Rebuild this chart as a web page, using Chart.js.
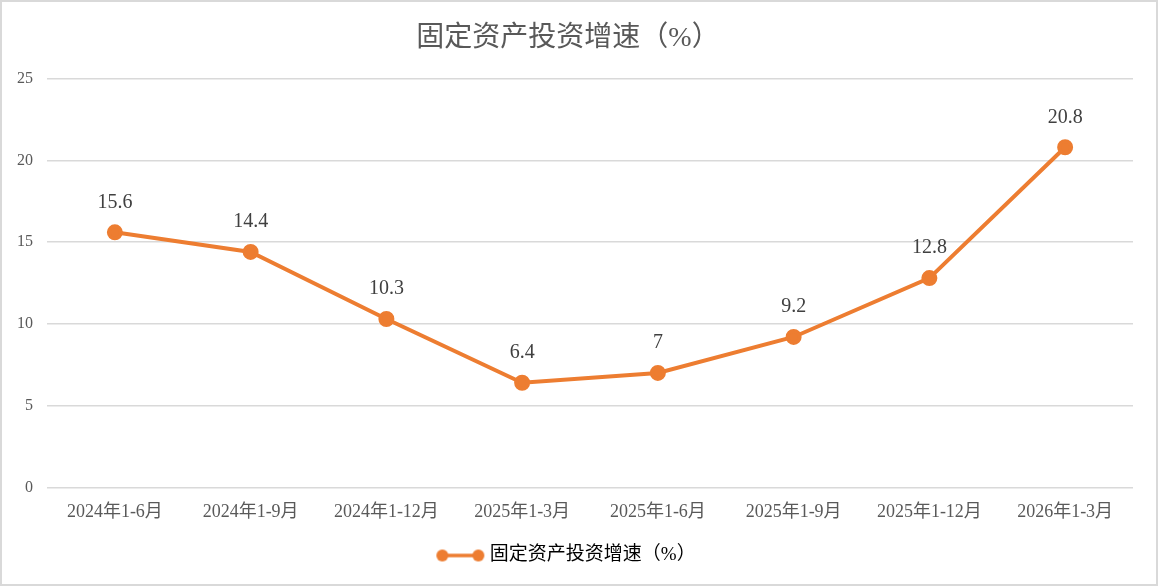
<!DOCTYPE html>
<html>
<head>
<meta charset="utf-8">
<script src="https://cdn.jsdelivr.net/npm/chart.js@4"></script>
<style>
  html, body { margin: 0; padding: 0; background: #fff; }
  #wrap { width: 1154px; height: 582px; border: 2px solid #d9d9d9; }
</style>
</head>
<body>
<div id="wrap"><canvas id="c" width="1154" height="582"></canvas></div>
<script>
// data
const periods = ['2024年1-6月', '2024年1-9月', '2024年1-12月', '2025年1-3月',
                 '2025年1-6月', '2025年1-9月', '2025年1-12月', '2026年1-3月'];
const growth = [15.6, 14.4, 10.3, 6.4, 7, 9.2, 12.8, 20.8];
const yTicks = [0, 5, 10, 15, 20, 25];
const seriesName = '固定资产投资增速（%）';

const ORANGE = '#ED7D31';
const SERIF = '"Liberation Serif", "Noto Sans CJK SC", serif';

// legend marker: short line with a dot on each end
function legendMarker() {
  const cv = document.createElement('canvas');
  cv.width = 50; cv.height = 16;
  const g = cv.getContext('2d');
  g.strokeStyle = ORANGE; g.fillStyle = ORANGE; g.lineWidth = 3.5;
  g.beginPath(); g.moveTo(7, 8); g.lineTo(43, 8); g.stroke();
  [7, 43].forEach(x => { g.beginPath(); g.arc(x, 8, 6, 0, Math.PI * 2); g.fill(); });
  return cv;
}

// value labels above each point
const valueLabels = {
  id: 'valueLabels',
  afterDatasetsDraw(chart) {
    const ctx = chart.ctx;
    const meta = chart.getDatasetMeta(0);
    ctx.save();
    ctx.font = '20px ' + SERIF;
    ctx.fillStyle = '#404040';
    ctx.textAlign = 'center';
    ctx.textBaseline = 'middle';
    meta.data.forEach((pt, i) => {
      ctx.fillText(String(growth[i]), pt.x, pt.y - 30);
    });
    ctx.restore();
  }
};

const marker = legendMarker();

new Chart(document.getElementById('c'), {
  type: 'line',
  data: {
    labels: periods,
    datasets: [{
      label: seriesName,
      data: growth,
      borderColor: ORANGE,
      backgroundColor: ORANGE,
      borderWidth: 4,
      pointRadius: 6,
      pointHoverRadius: 6,
      pointBackgroundColor: ORANGE,
      pointBorderColor: ORANGE,
      tension: 0,
      fill: false
    }]
  },
  options: {
    responsive: false,
    animation: false,
    layout: { padding: { left: 1, right: 23, top: 0, bottom: 9 } },
    plugins: {
      title: {
        display: true,
        text: seriesName,
        color: '#595959',
        font: { family: SERIF, size: 28, weight: 'normal' },
        padding: { top: 20, bottom: 23 }
      },
      legend: {
        position: 'bottom',
        labels: {
          usePointStyle: true,
          pointStyleWidth: 40,
          color: '#595959',
          font: { family: SERIF, size: 19 },
          padding: 14,
          generateLabels: () => [{
            text: seriesName,
            pointStyle: marker,
            fillStyle: ORANGE,
            strokeStyle: ORANGE,
            lineWidth: 0,
            datasetIndex: 0
          }]
        }
      },
      tooltip: { enabled: false }
    },
    scales: {
      x: {
        offset: true,
        grid: { display: false },
        border: { display: false },
        afterFit: axis => { axis.height += 3; },
        ticks: { color: '#595959', font: { family: SERIF, size: 18 }, padding: 6, maxRotation: 0 }
      },
      y: {
        min: 0,
        max: 25,
        afterBuildTicks: axis => { axis.ticks = yTicks.map(v => ({ value: v })); },
        grid: { color: '#d9d9d9', lineWidth: 1.5, drawTicks: false },
        border: { display: false },
        ticks: { color: '#595959', font: { family: SERIF, size: 16 }, padding: 14 }
      }
    }
  },
  plugins: [valueLabels]
});
</script>
</body>
</html>
